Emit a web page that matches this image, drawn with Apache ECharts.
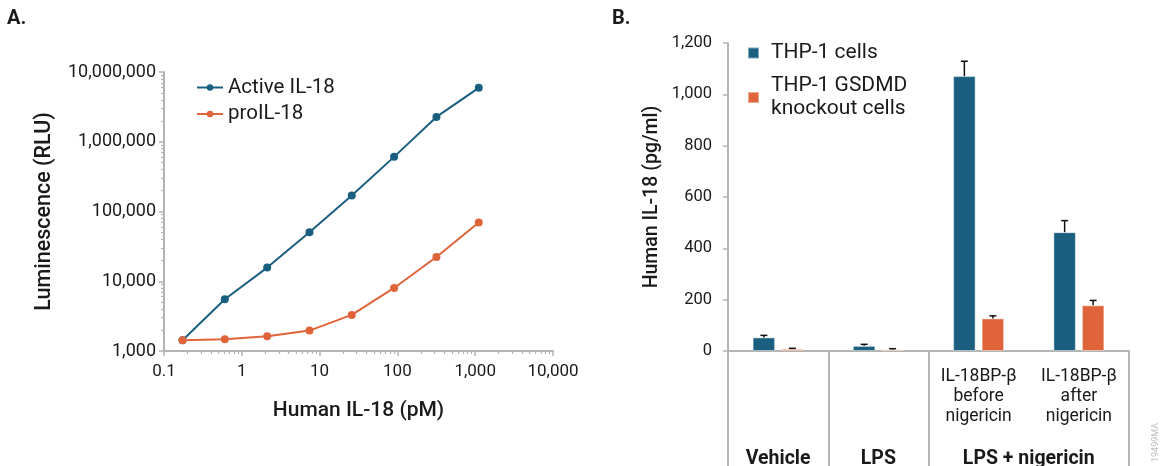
<!DOCTYPE html>
<html>
<head>
<meta charset="utf-8">
<script src="https://cdn.jsdelivr.net/npm/echarts@6/dist/echarts.min.js"></script>
<style>
  html, body { margin: 0; padding: 0; background: #fff; }
  #chart { width: 1165px; height: 466px; }
</style>
</head>
<body>
<div id="chart"></div>
<script>
// ---------- Panel A data ----------
const concentrationsPM = [0.173, 0.605, 2.12, 7.41, 25.9, 90.7, 317.5, 1111];
const activeIL18 = [1425, 5520, 15700, 50500, 169000, 607000, 2270000, 5930000];
const proIL18 = [1425, 1470, 1625, 1963, 3290, 8020, 22300, 69500];
const xTickLabelsA = ['0.1', '1', '10', '100', '1,000', '10,000'];
const yTickLabelsA = ['1,000', '10,000', '100,000', '1,000,000', '10,000,000'];

// ---------- Panel B data ----------
const conditionLabels = ['', '', 'IL-18BP-β\nbefore\nnigericin', 'IL-18BP-β\nafter\nnigericin'];
const groupLabels = ['Vehicle', 'LPS', 'LPS + nigericin'];
const groupSpans = [1, 1, 2];
const thp1Values = [53, 20, 1071, 463];
const thp1Errors = [8, 6, 58, 45];
const gsdmdValues = [8, 6, 127, 178];
const gsdmdErrors = [2.5, 3, 10, 19];

const BLUE = '#1b5f80';
const ORANGE = '#e0643a';
const AXIS_GRAY = '#b4b4b4';
const TEXT = '#1a1a1a';
const FONT = 'Roboto';
const BAR_W = 22.5;
const BAR_GAP_PX = 6;

// minor log ticks (2..9 per decade), expressed as decades counted from the axis minimum
function log10MinorTicks(decades) {
  const out = [];
  for (let e = 0; e < decades; e++) {
    for (let k = 2; k <= 9; k++) out.push(e + Math.log10(k));
  }
  return out;
}
function commaFmt(v) {
  return Number(v).toLocaleString('en-US', { maximumFractionDigits: 3 });
}

// group label centres on a 0..4 value axis
const groupCentres = [];
(function () {
  let acc = 0;
  groupSpans.forEach(s => { groupCentres.push(acc + s / 2); acc += s; });
})();

function errorRender(offsetSign) {
  return function (params, api) {
    const i = api.value(0);
    const v = api.value(1);
    const e = api.value(2);
    const pBase = api.coord([i, v]);
    const pTop = api.coord([i, v + e]);
    const x = pBase[0] + offsetSign * (BAR_W + BAR_GAP_PX) / 2;
    const half = 3.5;
    const style = { stroke: '#111', lineWidth: 1.5 };
    return {
      type: 'group',
      children: [
        { type: 'line', shape: { x1: x, y1: pBase[1], x2: x, y2: pTop[1] }, style: style },
        { type: 'line', shape: { x1: x - half, y1: pTop[1], x2: x + half, y2: pTop[1] }, style: style }
      ]
    };
  };
}

const chart = echarts.init(document.getElementById('chart'), null, { renderer: 'canvas' });

const axisLineStyle = { color: AXIS_GRAY, width: 2 };

const option = {
  backgroundColor: '#fff',
  animation: false,
  textStyle: { fontFamily: FONT, color: TEXT },
  graphic: [
    { type: 'text', left: 7, top: 9, style: { text: 'A.', font: 'bold 20px Roboto', fill: TEXT } },
    { type: 'text', left: 612, top: 9, style: { text: 'B.', font: 'bold 20px Roboto', fill: TEXT } },
    { type: 'text', x: 1160, y: 462, rotation: Math.PI / 2,
      style: { text: '19499MA', font: '9px Roboto', fill: '#bbbbbb', align: 'left', verticalAlign: 'bottom' } }
  ],
  legend: [
    {
      orient: 'vertical', left: 191, top: 71, itemWidth: 26, itemHeight: 8, itemGap: 3.5,
      data: ['Active IL-18', 'proIL-18'],
      textStyle: { fontFamily: FONT, fontSize: 20.5, color: TEXT, lineHeight: 23 }
    },
    {
      orient: 'vertical', left: 742, top: 36.5, itemWidth: 11, itemHeight: 11, itemGap: 10,
      icon: 'rect',
      data: ['THP-1 cells', 'THP-1 GSDMD\nknockout cells'],
      textStyle: { fontFamily: FONT, fontSize: 21, color: TEXT, lineHeight: 23, padding: [0, 0, 0, 7] }
    }
  ],
  grid: [
    { left: 164, top: 72, width: 389, height: 279, outerBoundsMode: 'none', containLabel: false },
    { left: 728, top: 43, width: 401, height: 308, outerBoundsMode: 'none', containLabel: false }
  ],
  xAxis: [
    {
      type: 'log', logBase: 10, gridIndex: 0, min: 0.1, max: 10000,
      name: 'Human IL-18 (pM)', nameLocation: 'middle', nameGap: 49,
      nameTextStyle: { fontFamily: FONT, fontSize: 21, fontWeight: 500, color: TEXT },
      axisLine: { show: true, lineStyle: axisLineStyle },
      axisTick: { show: true, length: 5, lineStyle: { color: AXIS_GRAY, width: 1.5 } },
      axisLabel: {
        margin: 12, fontFamily: FONT, fontSize: 17, color: TEXT,
        formatter: (v) => { const idx = Math.round(Math.log10(v)) + 1; return xTickLabelsA[idx] || commaFmt(v); }
      },
      splitLine: { show: false }
    },
    {
      // helper axis (decades above 0.1) carrying the minor log ticks
      type: 'value', gridIndex: 0, min: 0, max: 5, position: 'bottom',
      axisLine: { show: false }, axisLabel: { show: false }, splitLine: { show: false },
      axisTick: { show: true, length: 3, customValues: log10MinorTicks(5), lineStyle: { color: AXIS_GRAY, width: 1.2 } }
    },
    {
      type: 'category', gridIndex: 1, data: conditionLabels, boundaryGap: true,
      axisLine: { show: true, lineStyle: axisLineStyle },
      axisTick: { show: true, length: 116, interval: (index) => index !== 3, lineStyle: { color: AXIS_GRAY, width: 2 } },
      axisLabel: { interval: 0, margin: 16, fontFamily: FONT, fontSize: 17.5, lineHeight: 20, color: TEXT }
    },
    {
      type: 'value', gridIndex: 1, min: 0, max: 4, interval: 0.5, position: 'bottom',
      axisLine: { show: false }, axisTick: { show: false }, splitLine: { show: false },
      axisLabel: {
        margin: 98, fontFamily: FONT, fontSize: 19.5, fontWeight: 'bold', color: TEXT,
        showMinLabel: true, showMaxLabel: true,
        formatter: (v) => {
          for (let i = 0; i < groupCentres.length; i++) {
            if (Math.abs(v - groupCentres[i]) < 1e-6) return groupLabels[i];
          }
          return '';
        }
      }
    }
  ],
  yAxis: [
    {
      type: 'log', logBase: 10, gridIndex: 0, min: 1000, max: 10000000,
      name: 'Luminescence (RLU)', nameLocation: 'middle', nameGap: 108,
      nameTextStyle: { fontFamily: FONT, fontSize: 21.5, fontWeight: 500, color: TEXT },
      axisLine: { show: true, onZeroAxisIndex: 1, lineStyle: axisLineStyle },
      axisTick: { show: true, length: 5, lineStyle: { color: AXIS_GRAY, width: 1.5 } },
      axisLabel: {
        margin: 8, fontFamily: FONT, fontSize: 18, color: TEXT,
        formatter: (v) => { const idx = Math.round(Math.log10(v)) - 3; return yTickLabelsA[idx] || commaFmt(v); }
      },
      splitLine: { show: false }
    },
    {
      // helper axis (decades above 1,000) carrying the minor log ticks
      type: 'value', gridIndex: 0, min: 0, max: 4, position: 'left',
      axisLine: { show: false, onZeroAxisIndex: 1 }, axisLabel: { show: false }, splitLine: { show: false },
      axisTick: { show: true, length: 3, customValues: log10MinorTicks(4), lineStyle: { color: AXIS_GRAY, width: 1.2 } }
    },
    {
      type: 'value', gridIndex: 1, min: 0, max: 1200, interval: 200,
      name: 'Human IL-18 (pg/ml)', nameLocation: 'middle', nameGap: 66,
      nameTextStyle: { fontFamily: FONT, fontSize: 19.5, fontWeight: 500, color: TEXT },
      axisLine: { show: true, lineStyle: axisLineStyle },
      axisTick: { show: true, length: 5, lineStyle: { color: AXIS_GRAY, width: 1.5 } },
      axisLabel: { margin: 16, fontFamily: FONT, fontSize: 16.5, color: TEXT, formatter: (v) => commaFmt(v) },
      splitLine: { show: false }
    }
  ],
  series: [
    {
      name: 'Active IL-18', type: 'line', xAxisIndex: 0, yAxisIndex: 0,
      data: concentrationsPM.map((c, i) => [c, activeIL18[i]]),
      symbol: 'circle', symbolSize: 8, itemStyle: { color: BLUE }, lineStyle: { color: BLUE, width: 2 }, z: 3
    },
    {
      name: 'proIL-18', type: 'line', xAxisIndex: 0, yAxisIndex: 0,
      data: concentrationsPM.map((c, i) => [c, proIL18[i]]),
      symbol: 'circle', symbolSize: 8, itemStyle: { color: ORANGE }, lineStyle: { color: ORANGE, width: 2 }, z: 4
    },
    {
      name: 'THP-1 cells', type: 'bar', xAxisIndex: 2, yAxisIndex: 2,
      data: thp1Values, barWidth: BAR_W, barGap: (BAR_GAP_PX / BAR_W * 100) + '%',
      itemStyle: { color: BLUE, borderColor: 'rgba(255,255,255,0.45)', borderWidth: 1 }
    },
    {
      name: 'THP-1 GSDMD\nknockout cells', type: 'bar', xAxisIndex: 2, yAxisIndex: 2,
      data: gsdmdValues, barWidth: BAR_W,
      itemStyle: { color: ORANGE, borderColor: 'rgba(255,255,255,0.45)', borderWidth: 1 }
    },
    {
      type: 'custom', xAxisIndex: 2, yAxisIndex: 2, z: 5,
      data: thp1Values.map((v, i) => [i, v, thp1Errors[i]]),
      encode: { x: 0, y: 1 }, renderItem: errorRender(-1), silent: true
    },
    {
      type: 'custom', xAxisIndex: 2, yAxisIndex: 2, z: 5,
      data: gsdmdValues.map((v, i) => [i, v, gsdmdErrors[i]]),
      encode: { x: 0, y: 1 }, renderItem: errorRender(1), silent: true
    }
  ]
};
chart.setOption(option);
</script>
</body>
</html>
